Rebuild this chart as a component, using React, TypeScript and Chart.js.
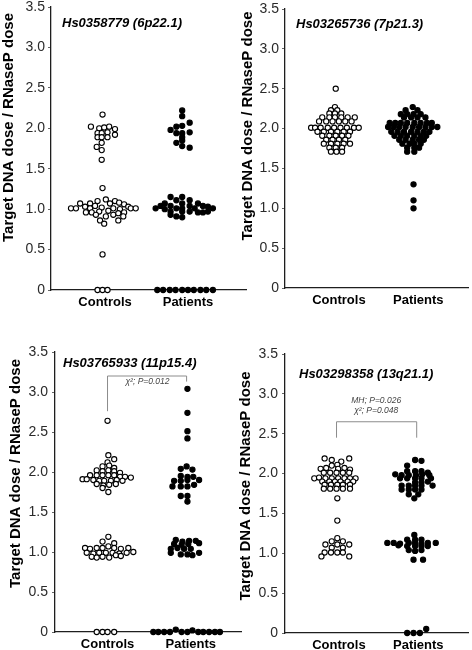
import React, { useEffect, useRef } from 'react';
import { Chart, registerables } from 'chart.js';

Chart.register(...registerables);

const FONT = 'Arial, "Liberation Sans", Helvetica, sans-serif';

const CATEGORIES = ['Controls', 'Patients'];
const Y_TICKS = [0, 0.5, 1, 1.5, 2, 2.5, 3, 3.5];
const AXIS_TITLE = 'Target DNA dose / RNaseP dose';

const TITLE_6P = 'Hs0358779 (6p22.1)';
const TITLE_7P = 'Hs03265736 (7p21.3)';
const TITLE_11P = 'Hs03765933 (11p15.4)';
const TITLE_13Q = 'Hs03298358 (13q21.1)';

const STAT_11P = ['χ²; P=0.012'];
const STAT_13Q = ['MH; P=0.026', 'χ²; P=0.048'];

// [x (group 1 = Controls, 2 = Patients, with swarm offset), target dose ratio]
const CONTROLS_6P: number[][] = [
  [0.97, 2.17], [0.83, 2.02], [0.93, 2.0], [0.99, 2.01], [1.05, 2.02], [1.12, 1.99], [0.91, 1.94], [0.96, 1.94],
  [1.03, 1.95], [1.12, 1.92], [0.91, 1.89], [0.96, 1.89], [1.03, 1.89], [0.96, 1.82], [0.9, 1.77], [0.96, 1.73],
  [0.96, 1.61],
  [0.97, 1.26],
  [1.01, 1.12], [0.91, 1.1], [1.12, 1.1],
  [0.7, 1.07], [0.82, 1.07], [1.06, 1.07], [1.17, 1.08], [1.23, 1.06],
  [0.76, 1.03], [0.88, 1.04], [0.96, 1.02], [1.28, 1.03],
  [0.59, 1.01], [0.65, 1.01], [0.82, 1.01], [1.1, 1.01], [1.18, 1.0], [1.31, 1.01], [1.37, 1.01],
  [0.77, 0.96], [0.84, 0.96], [0.93, 0.97], [1.04, 0.98], [1.23, 0.96],
  [0.89, 0.93], [1.1, 0.93], [1.16, 0.95],
  [1.01, 0.91], [1.22, 0.91],
  [0.94, 0.86], [1.16, 0.86],
  [0.99, 0.82],
  [0.97, 0.44],
  [0.91, 0], [0.97, 0], [1.03, 0],
];
const PATIENTS_6P: number[][] = [
  [1.93, 2.22], [1.93, 2.15], [2.02, 2.07], [1.86, 2.02], [1.93, 2.03], [1.79, 1.98], [1.86, 1.94], [1.93, 1.94],
  [2.02, 1.95], [1.93, 1.89], [1.86, 1.82], [1.93, 1.85], [1.93, 1.78], [2.02, 1.76],
  [1.79, 1.15], [1.93, 1.15],
  [1.86, 1.11], [2.02, 1.11],
  [1.72, 1.07], [1.93, 1.07], [2.12, 1.07],
  [1.67, 1.04], [1.79, 1.04], [2.02, 1.04], [2.18, 1.04], [2.24, 1.03],
  [1.61, 1.01], [1.72, 1.0], [1.86, 1.01], [1.93, 1.01], [2.08, 1.01], [2.3, 1.01],
  [1.79, 0.97], [1.93, 0.97], [2.02, 0.97], [2.12, 0.96], [2.18, 0.96], [2.24, 0.97],
  [1.79, 0.93], [1.86, 0.91], [1.93, 0.9],
  [1.63, 0], [1.7, 0], [1.78, 0], [1.85, 0], [1.93, 0], [2.0, 0], [2.07, 0], [2.15, 0], [2.22, 0], [2.3, 0],
];

const CONTROLS_7P: number[][] = [
  [0.96, 2.5],
  [0.95, 2.27],
  [0.9, 2.23], [0.98, 2.23],
  [0.88, 2.19], [0.95, 2.19], [1.03, 2.19],
  [0.79, 2.14], [0.88, 2.14], [0.95, 2.14], [1.03, 2.14], [1.11, 2.14], [1.2, 2.14],
  [0.75, 2.09], [0.84, 2.09], [0.92, 2.09], [1.0, 2.09], [1.08, 2.09], [1.16, 2.09],
  [0.65, 2.01], [0.7, 2.01], [0.77, 2.01], [0.86, 2.01], [0.94, 2.01], [1.02, 2.01], [1.1, 2.01], [1.19, 2.01], [1.25, 2.01],
  [0.73, 1.96], [0.81, 1.96], [0.9, 1.96], [0.98, 1.96], [1.06, 1.96], [1.14, 1.96],
  [0.79, 1.91], [0.88, 1.91], [0.96, 1.91], [1.04, 1.91], [1.12, 1.91],
  [0.84, 1.86], [0.92, 1.86], [1.0, 1.86], [1.08, 1.86],
  [0.81, 1.81], [0.9, 1.81], [0.98, 1.81], [1.06, 1.81], [1.14, 1.81],
  [0.88, 1.76], [0.96, 1.76], [1.04, 1.76],
  [0.9, 1.71], [0.97, 1.71], [1.04, 1.71],
];
const PATIENTS_7P: number[][] = [
  [1.93, 2.27],
  [1.84, 2.23], [1.99, 2.23],
  [1.78, 2.18], [1.86, 2.18], [1.94, 2.18], [2.03, 2.18],
  [1.82, 2.14], [1.91, 2.14], [1.99, 2.14], [2.09, 2.14],
  [1.64, 2.07], [1.71, 2.07], [1.78, 2.07], [1.86, 2.07], [1.95, 2.07], [2.03, 2.07], [2.11, 2.07], [2.17, 2.07],
  [1.62, 2.02], [1.69, 2.02], [1.76, 2.02], [1.84, 2.02], [1.93, 2.02], [2.01, 2.02], [2.09, 2.02], [2.17, 2.02], [2.24, 2.02],
  [1.66, 1.96], [1.74, 1.96], [1.82, 1.96], [1.91, 1.96], [1.99, 1.96], [2.07, 1.96], [2.14, 1.96],
  [1.7, 1.91], [1.78, 1.91], [1.86, 1.91], [1.95, 1.91], [2.03, 1.91], [2.1, 1.91],
  [1.76, 1.86], [1.84, 1.86], [1.93, 1.86], [2.01, 1.86], [2.07, 1.86],
  [1.8, 1.81], [1.89, 1.81], [1.95, 1.81], [2.03, 1.81],
  [1.86, 1.76], [1.95, 1.76], [2.01, 1.76],
  [1.86, 1.71], [1.95, 1.71],
  [1.94, 1.3], [1.94, 1.1], [1.94, 1.0],
];

const CONTROLS_11P: number[][] = [
  [1.0, 2.64],
  [1.01, 2.21], [1.08, 2.16], [1.0, 2.12], [0.94, 2.07], [1.02, 2.08], [1.08, 2.05],
  [0.87, 2.02], [0.94, 2.01], [1.01, 2.02], [1.08, 2.01], [1.15, 1.99],
  [0.79, 1.96], [0.87, 1.96], [0.94, 1.96], [1.01, 1.96], [1.08, 1.96], [1.15, 1.94], [1.21, 1.94],
  [0.7, 1.91], [0.75, 1.91], [1.28, 1.93],
  [0.83, 1.9], [0.9, 1.89], [0.96, 1.89], [1.04, 1.89], [1.11, 1.9], [1.18, 1.89],
  [0.87, 1.85], [0.95, 1.83], [1.02, 1.84], [1.1, 1.85],
  [0.94, 1.8], [1.01, 1.75],
  [1.01, 1.19], [0.94, 1.13], [1.08, 1.11], [1.01, 1.07],
  [0.73, 1.05], [0.79, 1.04], [0.87, 1.05], [0.94, 1.05], [1.08, 1.05], [1.16, 1.04], [1.25, 1.05],
  [0.75, 0.99], [0.83, 0.98], [0.9, 0.99], [0.98, 0.99], [1.06, 0.99], [1.14, 0.98], [1.23, 0.99], [1.31, 1.0],
  [0.81, 0.94], [0.87, 0.93], [0.94, 0.94], [1.02, 0.93], [1.1, 0.96], [1.16, 0.95],
  [0.87, 0], [0.94, 0], [1.0, 0], [1.08, 0],
];
const PATIENTS_11P: number[][] = [
  [1.96, 3.04], [1.96, 2.74], [1.96, 2.51], [1.96, 2.42],
  [1.95, 2.07], [1.88, 2.04], [2.02, 2.03],
  [1.88, 1.95], [1.96, 1.94], [2.03, 1.94],
  [1.8, 1.89], [1.88, 1.89], [1.96, 1.9], [2.1, 1.9],
  [1.78, 1.82], [1.88, 1.82], [1.96, 1.82], [2.04, 1.84],
  [1.88, 1.7], [1.96, 1.7], [1.96, 1.63],
  [1.82, 1.15], [1.9, 1.13], [1.98, 1.14], [2.06, 1.14],
  [1.8, 1.1], [1.89, 1.09], [1.97, 1.1], [2.1, 1.11],
  [1.76, 1.04], [1.84, 1.05], [1.92, 1.04], [2.0, 1.04],
  [1.76, 0.99], [1.88, 0.97], [1.96, 0.97], [2.02, 0.96], [2.1, 0.99],
  [1.55, 0], [1.61, 0], [1.68, 0], [1.75, 0], [1.82, 0.03], [1.89, 0], [1.96, 0], [2.02, 0.02], [2.09, 0],
  [2.15, 0], [2.22, 0], [2.29, 0], [2.35, 0],
];

const CONTROLS_13Q: number[][] = [
  [0.82, 2.19], [0.91, 2.17], [1.03, 2.15], [1.13, 2.19],
  [0.98, 2.11],
  [0.77, 2.06], [0.84, 2.07], [0.91, 2.1], [0.99, 2.06], [1.07, 2.07], [1.14, 2.05],
  [0.81, 2.01], [0.89, 2.01], [0.97, 2.01], [1.05, 2.01], [1.13, 2.01],
  [0.69, 1.94], [0.75, 1.95], [0.83, 1.94], [0.91, 1.94], [0.99, 1.94], [1.07, 1.94], [1.14, 1.94], [1.21, 1.94],
  [0.79, 1.9], [0.88, 1.9], [0.95, 1.9], [1.02, 1.9], [1.11, 1.9], [1.18, 1.9],
  [0.82, 1.86], [0.9, 1.86], [0.98, 1.86], [1.05, 1.86], [1.14, 1.86],
  [0.81, 1.81], [0.89, 1.81], [0.97, 1.81], [1.05, 1.81], [1.14, 1.81],
  [0.98, 1.69],
  [0.98, 1.41],
  [0.98, 1.19], [0.91, 1.15], [1.05, 1.15], [0.83, 1.11], [0.98, 1.11], [1.13, 1.11], [0.91, 1.07], [1.05, 1.07],
  [0.82, 1.01], [0.9, 1.01], [0.98, 1.01], [1.05, 1.01], [0.78, 0.96], [1.13, 0.96],
];
const PATIENTS_13Q: number[][] = [
  [1.96, 2.17], [2.04, 2.16],
  [1.86, 2.1],
  [1.86, 2.03], [1.96, 2.03], [2.04, 2.03], [2.12, 2.01],
  [1.71, 1.99], [1.79, 1.98], [1.88, 1.98], [1.97, 1.98], [2.05, 1.99], [2.14, 1.98],
  [1.77, 1.94], [1.86, 1.94], [1.96, 1.94], [2.04, 1.94], [2.16, 1.94],
  [1.96, 1.89], [2.04, 1.89], [2.12, 1.9],
  [1.79, 1.85], [1.88, 1.85], [1.96, 1.85], [2.04, 1.85], [2.18, 1.85],
  [1.79, 1.8], [1.88, 1.8], [1.96, 1.8], [2.04, 1.8],
  [1.88, 1.74], [2.0, 1.74], [1.95, 1.69],
  [1.95, 1.23],
  [1.86, 1.17], [1.96, 1.17], [2.04, 1.17],
  [1.61, 1.13], [1.69, 1.13], [1.77, 1.12], [1.88, 1.13], [1.96, 1.13], [2.04, 1.12], [2.12, 1.13], [2.22, 1.13],
  [1.75, 1.1], [1.86, 1.09], [1.96, 1.09], [2.04, 1.09], [2.12, 1.09],
  [1.88, 1.04], [1.96, 1.03], [2.04, 1.04],
  [1.94, 0.92], [2.06, 0.92],
  [1.86, 0], [1.94, 0], [2.02, 0], [2.1, 0.05],
];

type Bracket = { x1: number; x2: number; top: number; leftEnd: number; rightEnd: number; textX: number; textY: number[]; lines: string[] };
type Panel = {
  title: string;
  controls: number[][];
  patients: number[][];
  rect: number[]; // L, T, W, H on page
  area: number[]; // left, top, right, bottom on page
  xMin: number;
  xMax: number;
  tickPad: number;
  yTitleAt: number[];
  titleAt: number[];
  bracket?: Bracket;
};

const PANELS: Panel[] = [
  {
    title: TITLE_6P, controls: CONTROLS_6P, patients: PATIENTS_6P,
    rect: [0, 0, 250, 320], area: [51, 7, 246, 290], xMin: 0.349, xMax: 2.699, tickPad: 6,
    yTitleAt: [8.5, 127.5], titleAt: [62, 23.5],
  },
  {
    title: TITLE_7P, controls: CONTROLS_7P, patients: PATIENTS_7P,
    rect: [236, 0, 236, 320], area: [285, 9, 472, 288], xMin: 0.321, xMax: 2.63, tickPad: 6,
    yTitleAt: [247.5, 126], titleAt: [296, 24],
  },
  {
    title: TITLE_11P, controls: CONTROLS_11P, patients: PATIENTS_11P,
    rect: [0, 325, 245, 325], area: [55, 352, 243, 632], xMin: 0.369, xMax: 2.607, tickPad: 7,
    yTitleAt: [15.5, 473.5], titleAt: [63, 363],
    bracket: { x1: 1.0, x2: 1.95, top: 3.2, leftEnd: 2.76, rightEnd: 3.13, textX: 1.48, textY: [3.13], lines: STAT_11P },
  },
  {
    title: TITLE_13Q, controls: CONTROLS_13Q, patients: PATIENTS_13Q,
    rect: [236, 325, 236, 325], area: [285, 354, 472, 633], xMin: 0.321, xMax: 2.63, tickPad: 7,
    yTitleAt: [245.5, 486], titleAt: [299, 374],
    bracket: { x1: 0.97, x2: 1.98, top: 2.65, leftEnd: 2.45, rightEnd: 2.45, textX: 1.47, textY: [2.91, 2.79], lines: STAT_13Q },
  },
];

const TICK_LEN = 3;

function PanelChart({ p }: { p: Panel }) {
  const ref = useRef<HTMLCanvasElement | null>(null);
  useEffect(() => {
    if (!ref.current) return;
    const [L, T, W, H] = p.rect;
    const [al, at, ar, ab] = p.area;
    const decor = {
      id: 'decor',
      afterDraw(chart: any) {
        const ctx = chart.ctx as CanvasRenderingContext2D;
        ctx.save();
        ctx.fillStyle = '#000';
        ctx.font = `bold 15px ${FONT}`;
        ctx.translate(p.yTitleAt[0] - L, p.yTitleAt[1] - T);
        ctx.rotate(-Math.PI / 2);
        ctx.textAlign = 'center';
        ctx.textBaseline = 'middle';
        ctx.fillText(AXIS_TITLE, 0, 0);
        ctx.restore();

        ctx.save();
        ctx.fillStyle = '#000';
        ctx.font = `italic bold 13px ${FONT}`;
        ctx.textAlign = 'left';
        ctx.textBaseline = 'middle';
        ctx.fillText(p.title, p.titleAt[0] - L, p.titleAt[1] - T);
        ctx.restore();

        if (p.bracket) {
          const b = p.bracket;
          const xs = chart.scales.x;
          const ys = chart.scales.y;
          const x1 = xs.getPixelForValue(b.x1);
          const x2 = xs.getPixelForValue(b.x2);
          const yt = ys.getPixelForValue(b.top);
          ctx.save();
          ctx.strokeStyle = '#8c8c8c';
          ctx.lineWidth = 1;
          ctx.beginPath();
          ctx.moveTo(x1, ys.getPixelForValue(b.leftEnd));
          ctx.lineTo(x1, yt);
          ctx.lineTo(x2, yt);
          ctx.lineTo(x2, ys.getPixelForValue(b.rightEnd));
          ctx.stroke();
          ctx.fillStyle = '#444';
          ctx.font = `italic 8.5px ${FONT}`;
          ctx.textAlign = 'center';
          ctx.textBaseline = 'middle';
          b.lines.forEach((line, i) => {
            ctx.fillText(line, xs.getPixelForValue(b.textX), ys.getPixelForValue(b.textY[i]));
          });
          ctx.restore();
        }
      },
    };
    const pointCommon = { pointRadius: 2.6, pointBorderWidth: 1.1, pointHoverRadius: 2.6, clip: false as any };
    const chart = new Chart(ref.current, {
      type: 'scatter',
      data: {
        datasets: [
          { label: CATEGORIES[0], data: p.controls.map(([x, y]) => ({ x, y })), pointBackgroundColor: '#fff', pointBorderColor: '#000', ...pointCommon },
          { label: CATEGORIES[1], data: p.patients.map(([x, y]) => ({ x, y })), pointBackgroundColor: '#000', pointBorderColor: '#000', ...pointCommon },
        ],
      },
      options: {
        responsive: false,
        animation: false,
        events: [],
        layout: { padding: { left: 0, top: at - T, right: L + W - ar, bottom: 0 } },
        plugins: { legend: { display: false }, tooltip: { enabled: false } },
        scales: {
          x: {
            type: 'linear',
            min: p.xMin,
            max: p.xMax,
            grid: { display: false, drawTicks: false },
            border: { display: true, color: '#1e1e1e', width: 1.3 },
            afterBuildTicks: (s: any) => { s.ticks = CATEGORIES.map((_, i) => ({ value: i + 1 })); },
            ticks: {
              autoSkip: false,
              maxRotation: 0,
              padding: 5,
              color: '#000',
              font: { family: FONT, size: 13, weight: 'bold' },
              callback: (v: any) => CATEGORIES[Math.round(Number(v)) - 1] ?? '',
            },
            afterFit: (s: any) => { s.height = T + H - ab; s.paddingLeft = 0; s.paddingRight = 0; },
          },
          y: {
            type: 'linear',
            min: 0,
            max: 3.5,
            grid: { display: true, drawOnChartArea: false, drawTicks: true, tickLength: TICK_LEN, color: '#666', lineWidth: 1 },
            border: { display: true, color: '#1e1e1e', width: 1.3 },
            afterBuildTicks: (s: any) => { s.ticks = Y_TICKS.map((v) => ({ value: v })); },
            ticks: {
              padding: p.tickPad - TICK_LEN,
              color: '#2a2a2a',
              font: { family: FONT, size: 14 },
              callback: (v: any) => (Number(v) === 0 ? '0' : Number(v).toFixed(1)),
            },
            afterFit: (s: any) => { s.width = al - L; s.paddingTop = 0; s.paddingBottom = 0; },
          },
        },
      } as any,
      plugins: [decor],
    });
    return () => chart.destroy();
  }, [p]);
  const [L, T, W, H] = p.rect;
  return (
    <canvas
      ref={ref}
      width={W}
      height={H}
      style={{ position: 'absolute', left: L, top: T, width: W, height: H }}
    />
  );
}

export default function App() {
  return (
    <div style={{ position: 'absolute', left: 0, top: 0, width: 472, height: 650, background: '#fff', overflow: 'hidden' }}>
      {PANELS.map((p, i) => (
        <PanelChart key={i} p={p} />
      ))}
    </div>
  );
}
